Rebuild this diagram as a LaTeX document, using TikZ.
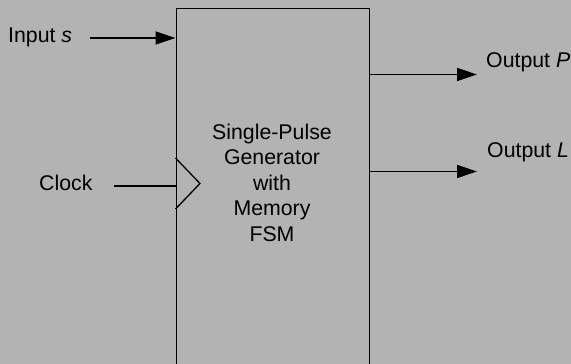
\documentclass[tikz,border=0pt]{standalone}
\usepackage{fontspec}
\setmainfont{Liberation Sans}
\usetikzlibrary{arrows.meta}
\definecolor{bg}{HTML}{B3B3B3}
\begin{document}
\begin{tikzpicture}[x=1pt,y=1pt,
  line/.style={line width=1.3pt,black},
  arr/.style={line, -{Triangle[length=20pt,width=13pt]}},
  lab/.style={anchor=west,inner sep=0pt,font=\fontsize{21.3}{25.5}\selectfont}]
\fill[bg] (0,0) rectangle (571,364);
\useasboundingbox (0,0) rectangle (571,364);
\begin{scope}
\clip (0,0) rectangle (571,364);
\node[line,draw,minimum width=193pt,minimum height=400pt,inner sep=0pt,anchor=north west] (box) at (175.5,356) {};
\end{scope}
\node[align=center,inner sep=0pt,font=\fontsize{21.3}{25.5}\selectfont] (title) at (272,181.5)
  {Single-Pulse\\Generator\\with\\Memory\\FSM};
% clock triangle
\draw[line,line join=miter] (175.5,206) coordinate (ck1) -- (200,180.5) coordinate (ck2) -- (175.5,155) coordinate (ck3);
% labels
\node[lab] (ins) at (8,327) {Input \textit{s}};
\node[lab] (clk) at (39,181) {Clock};
\node[lab] (outp) at (486,302) {Output \textit{P}};
\node[lab] (outl) at (487,212) {Output \textit{L}};
% connectors
\coordinate (inS) at (90,326);
\draw[arr] (inS) -- (inS -| box.west);
\coordinate (inC) at (114,178);
\draw[line] (inC) -- (inC -| box.west);
\coordinate (oP) at (477,289.5);
\draw[arr] (oP -| box.east) -- (oP);
\coordinate (oL) at (477,192.5);
\draw[arr] (oL -| box.east) -- (oL);
\end{tikzpicture}
\end{document}
